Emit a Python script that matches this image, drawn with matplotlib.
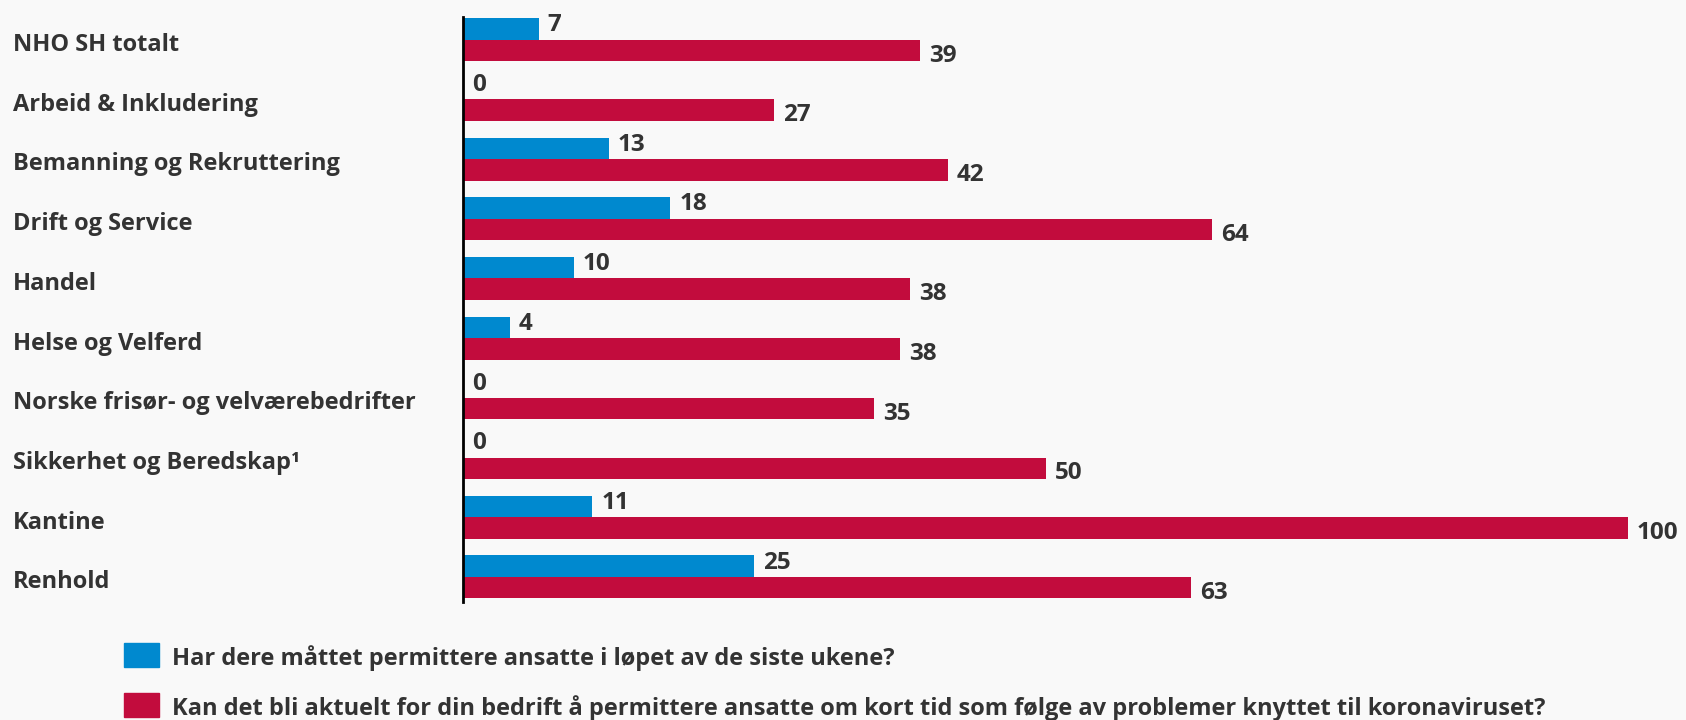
import matplotlib.pyplot as plt
from matplotlib.patches import Rectangle
from matplotlib.transforms import blended_transform_factory
import numpy as np

# data (bar lengths, labels are the rounded values)
categories = ['NHO SH totalt', 'Arbeid & Inkludering', 'Bemanning og Rekruttering',
              'Drift og Service', 'Handel', 'Helse og Velferd',
              'Norske frisør- og velværebedrifter', 'Sikkerhet og Beredskap¹',
              'Kantine', 'Renhold']
permittert = [6.5, 0, 12.5, 17.8, 9.5, 4.0, 0, 0, 11.1, 25.0]
aktuelt = [39.2, 26.7, 41.6, 64.3, 38.4, 37.5, 35.3, 50.0, 100.0, 62.5]
legend_labels = ['Har dere måttet permittere ansatte i løpet av de siste ukene?',
                 'Kan det bli aktuelt for din bedrift å permittere ansatte om kort tid som følge av problemer knyttet til koronaviruset?']

BLUE = '#0089CF'
RED = '#C20C3D'
TXT = '#333333'
BG = '#F9F9F9'

plt.rcParams['font.family'] = ['Open Sans', 'DejaVu Sans']
plt.rcParams['font.weight'] = 'bold'

W, H = 1686, 720
fig = plt.figure(figsize=(W/100, H/100), dpi=100, facecolor=BG)
ax = fig.add_axes([463/W, 1 - 602/H, (1628 - 463)/W, (602 - 17)/H])
ax.set_facecolor(BG)

y = np.arange(len(categories))
h = 0.36
ax.barh(y - h/2, permittert, height=h, color=BLUE)
ax.barh(y + h/2, aktuelt, height=h, color=RED)

ax.set_xlim(0, 100)
ax.set_ylim(9.42, -0.38)

# value labels
for i in range(len(categories)):
    ax.annotate(str(int(permittert[i] + 0.5)), (permittert[i], y[i] - h/2 - 0.06),
                xytext=(9, 0), textcoords='offset pixels',
                va='center', ha='left', fontsize=17.5, color=TXT,
                annotation_clip=False)
    ax.annotate(str(int(aktuelt[i] + 0.5)), (aktuelt[i], y[i] + h/2 + 0.085),
                xytext=(9, 0), textcoords='offset pixels',
                va='center', ha='left', fontsize=17.5, color=TXT,
                annotation_clip=False)

# category labels, left aligned at the figure edge
trans = blended_transform_factory(fig.transFigure, ax.transData)
for i, c in enumerate(categories):
    ax.text(13/W, y[i] + 0.09, c, transform=trans, fontsize=17, color=TXT,
            va='center', ha='left')

ax.set_xticks([])
ax.set_yticks([])
for s in ['top', 'right', 'bottom']:
    ax.spines[s].set_visible(False)
ax.spines['left'].set_linewidth(2)
ax.spines['left'].set_color('black')

# legend
for k, (lab, col) in enumerate(zip(legend_labels, [BLUE, RED])):
    top = 643 + k * 50
    fig.patches.append(Rectangle((124/W, 1 - (top + 24)/H), 35/W, 24/H,
                                 transform=fig.transFigure, color=col))
    fig.text(172/W, 1 - (top + 15)/H, lab, fontsize=17, color=TXT,
             va='center', ha='left')

fig.savefig('out.png', dpi=100, facecolor=BG)
